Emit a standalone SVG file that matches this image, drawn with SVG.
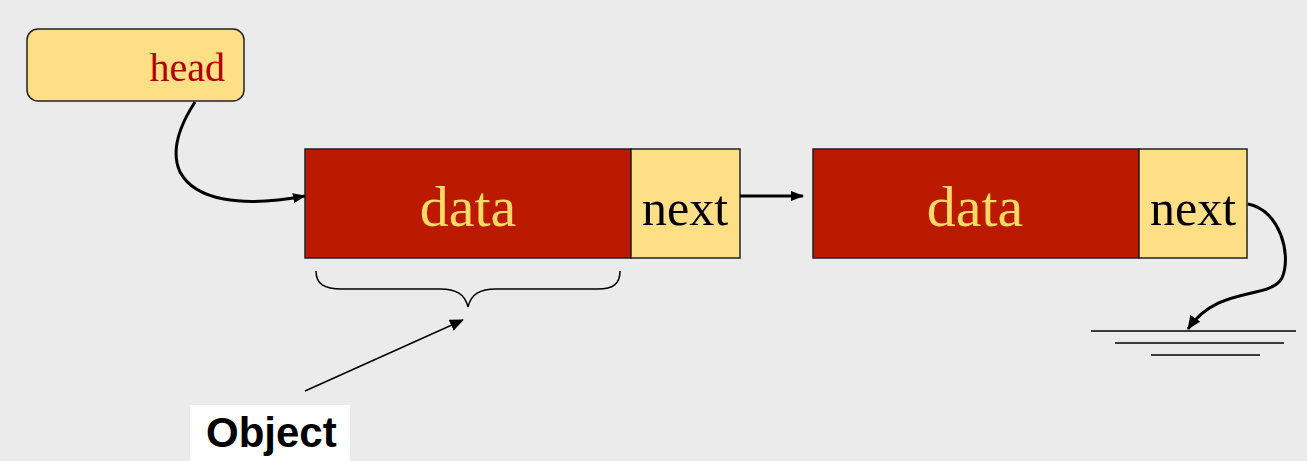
<svg xmlns="http://www.w3.org/2000/svg" width="1307" height="461" viewBox="0 0 1307 461">
<defs>
<marker id="ah" markerWidth="13" markerHeight="10" refX="12" refY="5" orient="auto" markerUnits="userSpaceOnUse">
<path d="M0,0 L13,5 L0,10 z" fill="#000"/>
</marker>
<marker id="ah2" markerWidth="14" markerHeight="12" refX="13" refY="6" orient="auto" markerUnits="userSpaceOnUse">
<path d="M0,0 L14,6 L0,12 z" fill="#000"/>
</marker>
</defs>
<style>
.data{fill:#BB1A00;stroke:#222;stroke-width:1.5}
.ptr{fill:#FFDF85;stroke:#222;stroke-width:1.5}
.dt{font-family:"Liberation Serif",serif;font-size:58px;fill:#FFD966;text-anchor:middle}
.nt{font-family:"Liberation Serif",serif;font-size:50px;fill:#000;text-anchor:middle}
.conn{fill:none;stroke:#000;stroke-width:3}
.thin{fill:none;stroke:#000;stroke-width:1.5}
</style>
<rect x="0" y="0" width="1307" height="461" fill="#EBEBEB"/>
<g id="head">
<rect x="27" y="29" width="217" height="72" rx="11" class="ptr"/>
<text x="225" y="81" font-family="Liberation Serif,serif" font-size="40" fill="#B00000" text-anchor="end">head</text>
</g>
<g id="node1">
<rect x="305" y="149" width="326" height="109" class="data"/>
<rect x="631" y="149" width="109" height="109" class="ptr"/>
<text x="468" y="226" class="dt">data</text>
<text x="685" y="225" class="nt">next</text>
</g>
<g id="node2">
<rect x="813" y="149" width="326" height="109" class="data"/>
<rect x="1139" y="149" width="108" height="109" class="ptr"/>
<text x="975" y="226" class="dt">data</text>
<text x="1193" y="225" class="nt">next</text>
</g>
<g id="null">
<line x1="1091" y1="331" x2="1296" y2="331" class="thin"/>
<line x1="1115" y1="343" x2="1284" y2="343" class="thin"/>
<line x1="1151" y1="355" x2="1260" y2="355" class="thin"/>
</g>
<g id="brace">
<path d="M316,271 C316,284 324,289 342,289 L440,289 C456,289 465,294 468,307 C471,294 480,289 496,289 L598,289 C613,289 620,284 620,271" class="thin"/>
</g>
<g id="object">
<rect x="190" y="405" width="160" height="56" fill="#fff"/>
<text x="206" y="447" font-family="Liberation Sans,Arial,sans-serif" font-size="42" font-weight="bold" fill="#000">Object</text>
</g>
<g id="connectors">
<path d="M195,102 C180,125 170,150 180,172 C195,200 240,208 305,196" class="conn" marker-end="url(#ah)"/>
<path d="M740,196 L803,196" class="conn" marker-end="url(#ah)"/>
<path d="M1248,204 C1280,210 1292,255 1282,278 C1270,300 1218,285 1188,329" class="conn" marker-end="url(#ah2)"/>
<path d="M305,391 L463,320" stroke="#000" stroke-width="1.5" fill="none" marker-end="url(#ah2)"/>
</g>
</svg>
